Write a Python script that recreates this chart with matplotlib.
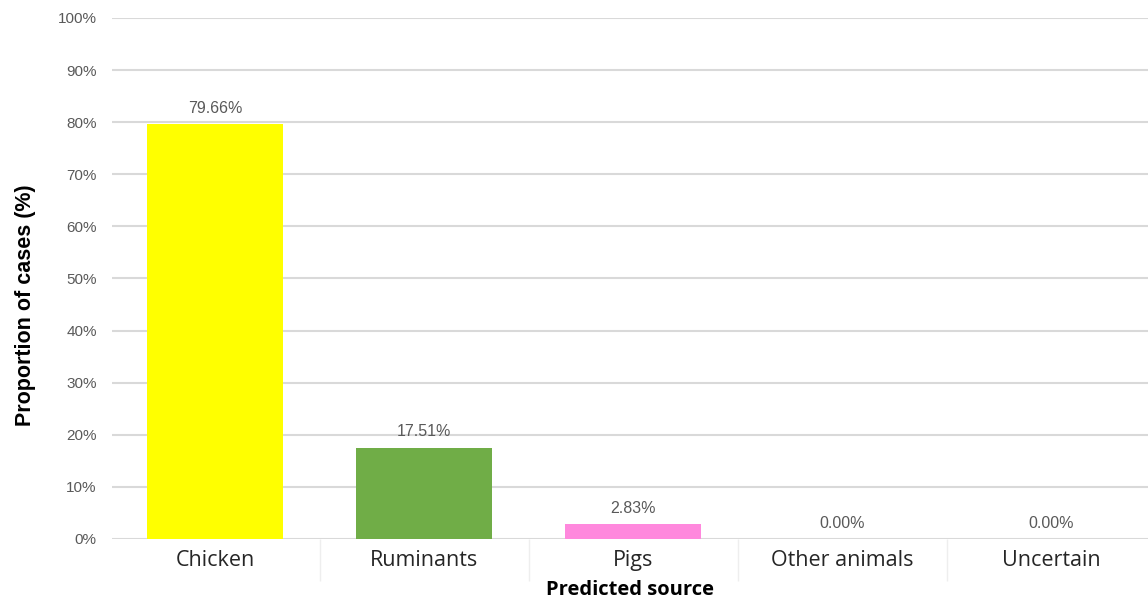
import matplotlib.pyplot as plt
import numpy as np

# Data
sources = ['Chicken', 'Ruminants', 'Pigs', 'Other animals', 'Uncertain']
proportions = [79.66, 17.51, 2.83, 0.00, 0.00]
bar_colors = ['#ffff00', '#70ad47', '#ff88dd', '#a5a5a5', '#4472c4']
yticks = np.arange(0, 101, 10)

fig = plt.figure(figsize=(11.48, 5.98), dpi=100)
ax = fig.add_axes([0.0976, 0.0987, 0.9024, 0.8713])

x = np.arange(len(sources))
bars = ax.bar(x, proportions, width=0.65, color=bar_colors, zorder=3)

# etiquetas de valor
for xi, v in zip(x, proportions):
    ax.annotate(f'{v:.2f}%', (xi, v), xytext=(0, 6), textcoords='offset points',
                ha='center', va='bottom', fontsize=11.5, color='#595959',
                family='Liberation Sans')

ax.set_yticks(yticks)
ax.set_yticklabels([f'{t}%' for t in yticks], family='Liberation Sans',
                   fontsize=11, color='#595959')
ax.set_xticks(x)
ax.set_xticklabels(sources, fontsize=15.5, color='#262626', family='Open Sans')
ax.tick_params(axis='x', length=0, pad=8)
ax.tick_params(axis='y', length=0, pad=11)

# separadores entre categorias
ax.set_xticks(np.arange(len(sources) + 1) - 0.5, minor=True)
ax.tick_params(axis='x', which='minor', length=30, color='#eeeeee', width=1)

ax.set_ylim(0, 100)
ax.set_xlim(-0.493, 4.464)

ax.grid(axis='y', color='#d9d9d9', linewidth=1.5, zorder=0)
for s in ax.spines.values():
    s.set_visible(False)

ax.set_xlabel('Predicted source', fontsize=14.5, fontweight='bold',
              family='Open Sans', va='center')
ax.xaxis.set_label_coords(0.5, -0.097)
ax.set_ylabel('Proportion of cases (%)', fontsize=15.5, fontweight='bold',
              family='Liberation Sans', va='center')
ax.yaxis.set_label_coords(-0.084, 0.449)

fig.savefig('out.png', dpi=100)
